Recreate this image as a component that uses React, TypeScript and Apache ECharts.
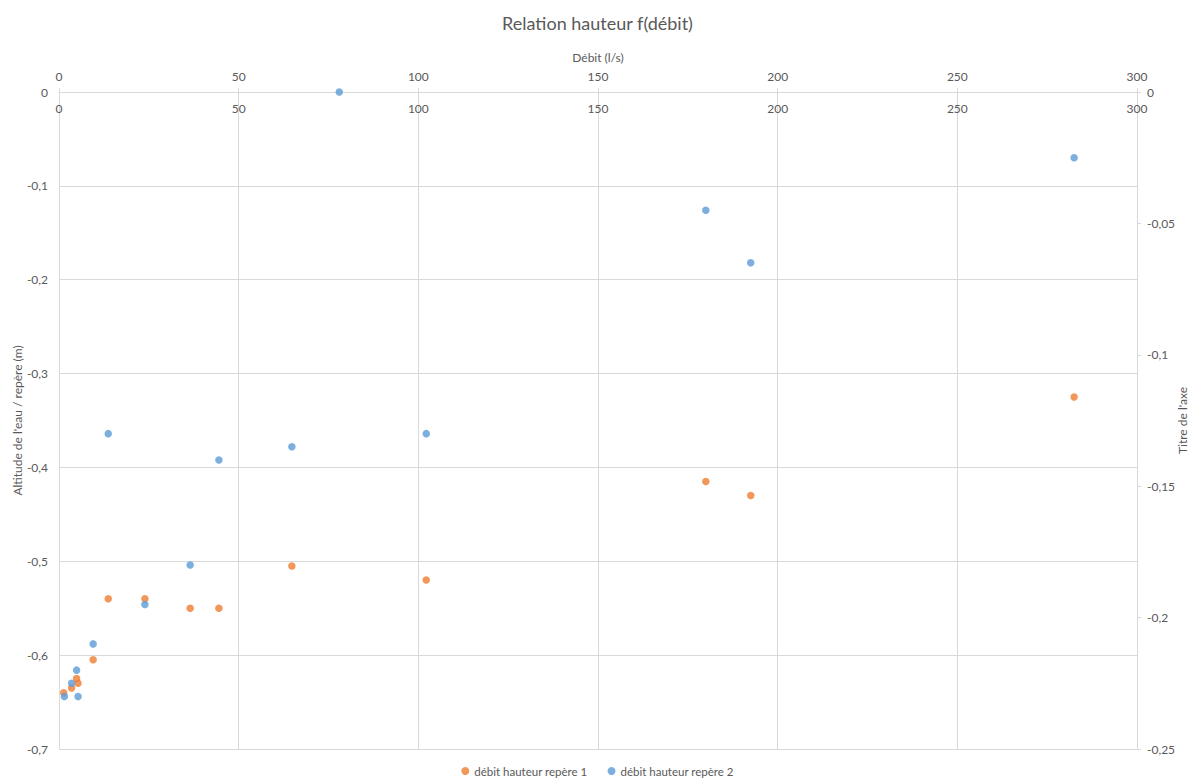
import React, { useEffect, useRef } from "react";
import * as echarts from "echarts";

// Débit (l/s) and water altitude relative to the benchmark, per gauge
const debitRepere1 = [1.3, 3.5, 4.9, 5.3, 9.5, 13.7, 23.9, 36.5, 44.5, 64.8, 102.2, 180, 192.5, 282.5];
const hauteurRepere1 = [-0.64, -0.635, -0.625, -0.63, -0.605, -0.54, -0.54, -0.55, -0.55, -0.505, -0.52, -0.415, -0.43, -0.325];

const debitRepere2 = [1.5, 3.5, 4.9, 5.3, 9.5, 13.7, 23.9, 36.5, 44.5, 64.8, 78, 102.2, 180, 192.5, 282.5];
const hauteurRepere2 = [-0.23, -0.225, -0.22, -0.23, -0.21, -0.13, -0.195, -0.18, -0.14, -0.135, 0, -0.13, -0.045, -0.065, -0.025];

const seriesNames = ["débit hauteur repère 1", "débit hauteur repère 2"];
const chartTitle = "Relation hauteur f(débit)";
const xAxisTitle = "Débit (l/s)";
const yAxisTitle = "Altitude de l'eau / repère (m)";
const y2AxisTitle = "Titre de l'axe";

const ORANGE = "#ED7D31";
const BLUE = "#5B9BD5";
const GRID = "#d9d9d9";
const TEXT = "#595959";
const FONT = "Lato, 'Noto Sans', sans-serif";

const frNumber = (v: number) => String(Number(v.toFixed(3))).replace(".", ",");

export default function App() {
  const ref = useRef<HTMLDivElement>(null);

  useEffect(() => {
    if (!ref.current) return;
    const chart = echarts.init(ref.current, undefined, { renderer: "svg" });

    const labelStyle = { color: TEXT, fontSize: 12, fontFamily: FONT };
    const lineStyle = { color: GRID, width: 1 };

    chart.setOption({
      animation: false,
      backgroundColor: "#ffffff",
      textStyle: { fontFamily: FONT },
      title: {
        text: chartTitle,
        left: "center",
        top: 9,
        textStyle: { color: TEXT, fontSize: 18, fontWeight: "normal", fontFamily: FONT },
      },
      legend: {
        top: 765,
        left: "center",
        padding: 0,
        icon: "circle",
        itemWidth: 8,
        itemHeight: 8,
        itemGap: 20,
        textStyle: { color: TEXT, fontSize: 11.5, fontFamily: FONT },
        data: seriesNames,
      },
      grid: { left: 59, right: 58, top: 92, bottom: 31, containLabel: false, outerBoundsMode: "none" },
      xAxis: [
        {
          type: "value",
          position: "top",
          min: 0,
          max: 300,
          interval: 50,
          name: xAxisTitle,
          nameLocation: "middle",
          nameGap: 29,
          nameMoveOverlap: false,
          nameTextStyle: { color: TEXT, fontSize: 12, fontFamily: FONT },
          axisLine: { show: true, onZero: false, lineStyle },
          axisTick: { show: true, length: 4, lineStyle },
          axisLabel: { ...labelStyle, margin: 10 },
          splitLine: { show: true, lineStyle },
        },
        {
          type: "value",
          position: "top",
          min: 0,
          max: 300,
          interval: 50,
          axisLine: { show: true, onZero: false, lineStyle },
          axisTick: { show: true, inside: true, length: 4, lineStyle },
          axisLabel: { ...labelStyle, inside: true, margin: 10 },
          splitLine: { show: false },
        },
      ],
      yAxis: [
        {
          type: "value",
          position: "left",
          min: -0.7,
          max: 0,
          interval: 0.1,
          name: yAxisTitle,
          nameLocation: "middle",
          nameRotate: 90,
          nameGap: 36,
          nameMoveOverlap: false,
          nameTextStyle: { color: TEXT, fontSize: 12, fontFamily: FONT },
          axisLine: { show: true, onZero: false, lineStyle },
          axisTick: { show: false },
          axisLabel: { ...labelStyle, margin: 11, formatter: frNumber },
          splitLine: { show: true, lineStyle },
        },
        {
          type: "value",
          position: "right",
          min: -0.25,
          max: 0,
          interval: 0.05,
          name: y2AxisTitle,
          nameLocation: "middle",
          nameRotate: 90,
          nameGap: 39,
          nameMoveOverlap: false,
          nameTextStyle: { color: TEXT, fontSize: 12, fontFamily: FONT },
          axisLine: { show: true, onZero: false, lineStyle },
          axisTick: { show: true, length: 4, lineStyle },
          axisLabel: { ...labelStyle, margin: 10, formatter: frNumber },
          splitLine: { show: false },
        },
      ],
      series: [
        {
          name: seriesNames[0],
          type: "scatter",
          xAxisIndex: 0,
          yAxisIndex: 0,
          symbol: "circle",
          symbolSize: 7.5,
          itemStyle: { color: ORANGE },
          data: debitRepere1.map((d, i) => [d, hauteurRepere1[i]]),
        },
        {
          name: seriesNames[1],
          type: "scatter",
          xAxisIndex: 1,
          yAxisIndex: 1,
          symbol: "circle",
          symbolSize: 7.5,
          itemStyle: { color: BLUE },
          data: debitRepere2.map((d, i) => [d, hauteurRepere2[i]]),
        },
      ],
    });

    return () => chart.dispose();
  }, []);

  return (
    <div
      ref={ref}
      style={{ position: "absolute", left: 0, top: 0, width: 1195, height: 780, background: "#fff" }}
    />
  );
}
